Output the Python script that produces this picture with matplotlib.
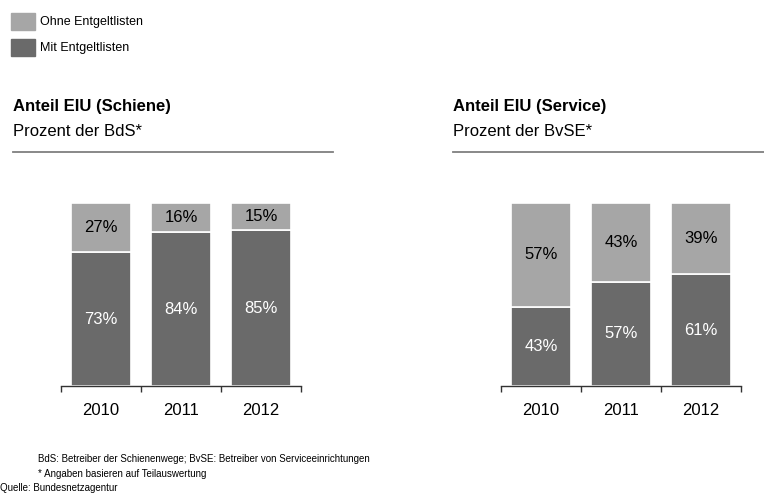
import matplotlib
matplotlib.use("Agg")
import matplotlib.pyplot as plt
from matplotlib.patches import Rectangle
from matplotlib.lines import Line2D

plt.rcParams['font.family'] = ['Liberation Sans', 'DejaVu Sans']

years = ["2010", "2011", "2012"]
schiene_mit = [73, 84, 85]
schiene_ohne = [27, 16, 15]
service_mit = [43, 57, 61]
service_ohne = [57, 43, 39]

legend_labels = ["Ohne Entgeltlisten", "Mit Entgeltlisten"]
titles = ["Anteil EIU (Schiene)", "Anteil EIU (Service)"]
subtitles = ["Prozent der BdS*", "Prozent der BvSE*"]
footnotes = ["BdS: Betreiber der Schienenwege; BvSE: Betreiber von Serviceeinrichtungen",
             "* Angaben basieren auf Teilauswertung"]
source = "Quelle: Bundesnetzagentur"

C_LIGHT = "#a6a6a6"
C_DARK = "#6a6a6a"

W, H = 764, 494
fig = plt.figure(figsize=(W / 100, H / 100), dpi=100)


def fx(px):
    return px / W


def fy(py):
    return 1 - py / H


def panel(x0, mit, ohne):
    ax = fig.add_axes([fx(x0), fy(386), fx(240), 183.3 / H])
    x = list(range(len(years)))
    ax.bar(x, mit, width=0.75, color=C_DARK, edgecolor="white", linewidth=1.2)
    ax.bar(x, ohne, bottom=mit, width=0.75, color=C_LIGHT, edgecolor="white", linewidth=1.2)
    for i in x:
        ax.text(i, mit[i] / 2, f"{mit[i]}%", ha="center", va="center",
                color="white", fontsize=12)
        ax.text(i, mit[i] + ohne[i] / 2, f"{ohne[i]}%", ha="center", va="center",
                color="black", fontsize=12)
    ax.set_xlim(-0.5, 2.5)
    ax.set_ylim(0, 100)
    for s in ["top", "right", "left"]:
        ax.spines[s].set_visible(False)
    ax.spines["bottom"].set_color("#333333")
    ax.spines["bottom"].set_linewidth(1.0)
    ax.set_yticks([])
    ax.set_xticks(x)
    ax.set_xticklabels(years, fontsize=12)
    ax.tick_params(axis="x", which="major", length=0, pad=12)
    ax.set_xticks([-0.5, 0.5, 1.5, 2.5], minor=True)
    ax.tick_params(axis="x", which="minor", length=4.5, width=1.0,
                   color="#333333", direction="out")
    return ax


panel(61, schiene_mit, schiene_ohne)
panel(501, service_mit, service_ohne)

# headers above each panel
for x0, x1, t, st in [(13, 333, titles[0], subtitles[0]),
                      (453, 764, titles[1], subtitles[1])]:
    fig.text(fx(x0), fy(106), t, fontsize=12, fontweight="bold",
             ha="left", va="center")
    fig.text(fx(x0), fy(131), st, fontsize=12, ha="left", va="center")
    fig.add_artist(Line2D([fx(x0), fx(x1)], [fy(152), fy(152)],
                          color="#7f7f7f", linewidth=1.3,
                          transform=fig.transFigure))

# legend
for yc, lab, col in [(21.5, legend_labels[0], C_LIGHT), (47.5, legend_labels[1], C_DARK)]:
    fig.add_artist(Rectangle((fx(11), fy(yc + 8.5)), fx(24), 17 / H,
                             color=col, transform=fig.transFigure))
    fig.text(fx(40), fy(yc), lab, fontsize=9, ha="left", va="center")

# footnotes
fig.text(fx(38), fy(459), footnotes[0], fontsize=7, ha="left", va="center")
fig.text(fx(38), fy(474), footnotes[1], fontsize=7, ha="left", va="center")
fig.text(fx(0), fy(488), source, fontsize=7, ha="left", va="center")

fig.savefig("out.png", dpi=100)
